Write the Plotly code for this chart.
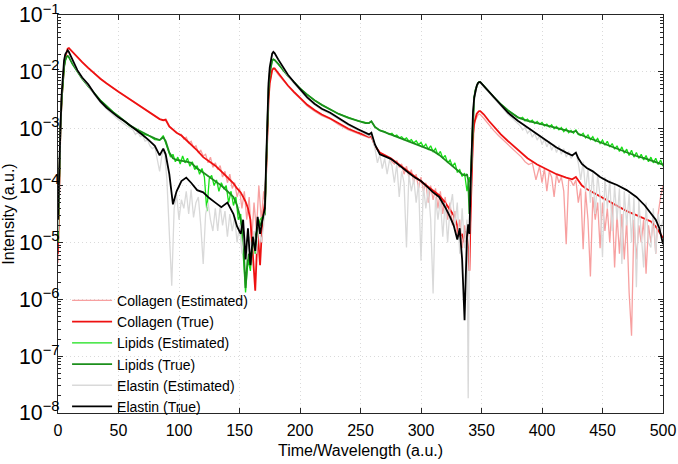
import numpy as np
import plotly.graph_objects as go

# ---------------- data (values stored as log10 of intensity) ----------------
T_X = [0, 1, 2, 3, 4, 5, 6, 7, 8, 9,
       12, 16, 20, 25, 30, 35, 40, 45, 50, 55, 60, 65, 70, 75, 80, 84, 87, 89, 92, 95,
       98, 102, 106, 110, 115, 120, 125, 130, 135, 140, 145, 148, 151, 153, 155, 157, 159, 161, 163, 165,
       167, 169,
       171, 172, 173, 174, 175, 176, 177, 178, 179,
       182, 186, 190, 195, 200, 206, 212, 218, 225, 232, 240, 248, 254, 257, 259, 262, 266, 270, 275, 280,
       285, 290, 295, 300, 305, 310, 315, 320, 324, 327, 330, 332, 334, 336, 337, 338, 339, 340,
       341, 342, 343, 344, 345, 346, 347, 348, 349,
       352, 356, 360, 366, 372, 380, 388, 396, 404, 412, 420, 425, 428, 430, 433, 437, 442, 448, 455, 462,
       470, 478, 485, 490, 494, 497, 500]

elastin_true = [-4.6, -3.6, -3.0, -2.4, -2.0, -1.8, -1.69, -1.64, -1.62, -1.65,
                -1.8, -1.97, -2.1, -2.22, -2.38, -2.52, -2.63, -2.72, -2.8, -2.87, -2.95, -3.02, -3.11, -3.2, -3.3,
                -3.47, -3.35, -3.45, -3.8, -4.33,
                -4.1, -3.92, -3.86, -3.95, -4.08, -4.12, -4.22, -4.3, -4.38, -4.3, -4.5, -4.72, -4.85, -4.6, -5.3,
                -4.75, -5.4, -4.9, -5.15, -4.55, -4.85, -4.6,
                -4.4, -3.6, -2.7, -2.2, -1.92, -1.76, -1.68, -1.65, -1.67,
                -1.78, -1.92, -2.05, -2.18, -2.31, -2.45, -2.56, -2.65, -2.72, -2.82, -2.92, -3.01, -3.08, -3.1,
                -3.07, -3.28, -3.45, -3.48, -3.53, -3.61, -3.7, -3.78, -3.86, -3.92, -4.02, -4.12, -4.2, -4.38,
                -4.55, -4.7, -4.95, -4.75, -5.3, -6.37, -5.6, -4.9, -4.68, -4.85,
                -4.0, -3.2, -2.7, -2.45, -2.32, -2.25, -2.2, -2.18, -2.18,
                -2.25, -2.35, -2.44, -2.58, -2.72, -2.86, -2.98, -3.1, -3.22, -3.33, -3.42, -3.47, -3.42, -3.52,
                -3.62, -3.69, -3.75, -3.85, -3.93, -3.99, -4.08, -4.2, -4.35, -4.48, -4.6, -4.75, -5.03]

lipids_true = [-4.9, -3.6, -3.0, -2.5, -2.15, -1.92, -1.8, -1.74, -1.72, -1.74,
               -1.86, -2.0, -2.12, -2.25, -2.38, -2.5, -2.6, -2.7, -2.78, -2.87, -2.95, -3.01, -3.07, -3.12, -3.17,
               -3.2, -3.15, -3.22, -3.42, -3.52,
               -3.55, -3.56, -3.58, -3.6, -3.7, -3.77, -3.85, -3.93, -4.0, -4.1, -4.2, -4.35, -4.6, -4.9, -5.8,
               -5.2, -5.4, -5.0, -4.9, -4.75, -4.7, -4.6,
               -4.5, -3.7, -2.8, -2.3, -2.02, -1.88, -1.8, -1.78, -1.79,
               -1.86, -1.97, -2.07, -2.18, -2.29, -2.4, -2.5, -2.58, -2.66, -2.74, -2.81, -2.86, -2.9, -2.9,
               -2.87, -2.97, -3.03, -3.06, -3.1, -3.14, -3.18, -3.22, -3.26, -3.3, -3.34, -3.39, -3.46, -3.55,
               -3.62, -3.68, -3.74, -3.77, -3.8, -3.82, -3.82, -3.8, -3.9, -4.5,
               -4.0, -3.2, -2.7, -2.45, -2.32, -2.25, -2.2, -2.18, -2.18,
               -2.25, -2.35, -2.44, -2.57, -2.68, -2.8, -2.86, -2.9, -2.94, -2.99, -3.03, -3.06, -3.04, -3.09,
               -3.12, -3.15, -3.19, -3.24, -3.3, -3.36, -3.42, -3.48, -3.52, -3.56, -3.59, -3.61, -3.63]

collagen_true = [-5.2, -3.8, -3.0, -2.5, -2.15, -1.9, -1.74, -1.64, -1.59, -1.58,
                 -1.65, -1.73, -1.83, -1.93, -2.03, -2.12, -2.2, -2.28, -2.35, -2.42, -2.49, -2.56, -2.63, -2.7,
                 -2.77, -2.83, -2.85, -2.84, -2.96, -3.02,
                 -3.07, -3.12, -3.2, -3.28, -3.38, -3.5, -3.57, -3.65, -3.75, -3.86, -3.96, -4.05, -4.12, -4.2,
                 -4.28, -4.4, -4.6, -5.2, -5.85, -4.8, -5.4, -4.6,
                 -4.3, -3.8, -3.0, -2.5, -2.2, -2.05, -1.97, -1.94, -1.94,
                 -2.02, -2.13, -2.24, -2.35, -2.46, -2.58, -2.67, -2.75, -2.82, -2.91, -3.0, -3.07, -3.12, -3.14,
                 -3.13, -3.3, -3.42, -3.47, -3.52, -3.6, -3.68, -3.76, -3.84, -3.92, -4.0, -4.08, -4.17, -4.3,
                 -4.42, -4.52, -4.7, -4.9, -4.85, -5.0, -4.8, -4.9, -5.1, -5.5,
                 -4.5, -3.6, -3.1, -2.9, -2.8, -2.74, -2.71, -2.69, -2.69,
                 -2.75, -2.86, -2.96, -3.1, -3.22, -3.37, -3.52, -3.63, -3.72, -3.8, -3.86, -3.89, -3.85, -3.92,
                 -4.0, -4.06, -4.12, -4.2, -4.28, -4.36, -4.45, -4.52, -4.58, -4.63, -4.72, -4.82, -4.92]

# Collagen (Estimated)
CE_X = (list(range(0, 10)) +
        [12, 16, 20, 25, 30, 35, 40, 45, 50, 55, 60, 65, 70, 75, 80, 84, 87, 89, 92, 95, 98] +
        list(range(100, 171, 2)) +
        list(range(171, 180)) +
        [182, 186, 190, 195, 200, 206, 212, 218, 225, 232, 240, 248, 254, 257, 259, 262, 266, 270] +
        list(range(272, 341, 2)) +
        list(range(341, 350)) +
        [352, 356, 360, 364, 368, 372, 376, 380, 383, 386, 389, 392, 395, 398] +
        list(range(400, 501, 2)))
collagen_est = [-5.36, -3.8, -3.0, -2.5, -2.15, -1.9, -1.75, -1.65, -1.6, -1.59,
                -1.66, -1.74, -1.83, -1.94, -2.03, -2.12, -2.2, -2.28, -2.35, -2.42, -2.49, -2.56, -2.63, -2.69,
                -2.77, -2.83, -2.85, -2.86, -2.97, -3.02, -3.06,
                -3.1, -3.1, -3.18, -3.15, -3.25, -3.22, -3.33, -3.3, -3.42, -3.38,
                -3.48, -3.45, -3.6, -3.5, -3.68, -3.6, -3.72, -3.65, -3.85, -3.75,
                -3.95, -3.8, -4.05, -3.95, -4.2, -4.05, -4.4, -4.1, -4.6, -4.2,
                -5.0, -4.3, -4.8, -4.0, -4.6, -4.1,
                -4.3, -3.8, -3.0, -2.5, -2.2, -2.05, -1.97, -1.94, -1.95,
                -2.05, -2.15, -2.26, -2.37, -2.47, -2.6, -2.69, -2.77, -2.83, -2.93, -3.02, -3.09, -3.14, -3.16,
                -3.15, -3.31, -3.43, -3.48,
                -3.5, -3.52, -3.58, -3.62, -3.56, -3.68, -3.62, -3.8, -3.66, -3.85,
                -3.72, -3.95, -3.8, -4.05, -3.85, -4.1, -3.95, -4.3, -4.0, -4.25,
                -4.05, -4.4, -4.1, -4.5, -4.2, -4.6, -4.3, -4.7, -4.45, -4.9,
                -4.6, -5.1, -4.7, -4.95, -4.8,
                -4.6, -3.7, -3.2, -2.95, -2.85, -2.79, -2.76, -2.74, -2.75,
                -2.82, -2.93, -3.03, -3.12, -3.2, -3.29, -3.36, -3.45, -3.5, -3.58, -3.63, -3.6, -3.9, -3.66,
                -3.95, -3.7, -4.1, -3.75, -3.85, -4.2, -3.8, -3.95, -3.85, -4.1,
                -5.03, -3.9, -3.92, -4.0, -3.9, -4.3, -4.05, -5.12, -4.1, -4.6,
                -5.6, -4.2, -4.6, -4.3, -5.1, -4.3, -4.8, -4.4, -5.0, -4.3,
                -5.44, -4.5, -5.2, -4.5, -5.3, -4.6, -5.88, -6.64, -4.6, -5.3,
                -4.7, -5.0, -4.6, -5.55, -4.7, -5.0, -4.6, -5.2, -4.5, -4.2,
                -4.0]

# Lipids (Estimated)
LE_X = (list(range(0, 10)) +
        [12, 16, 20, 25, 30, 35, 40, 45, 50, 55, 60, 65, 70, 75, 80, 84, 87] +
        list(range(89, 170, 2)) +
        list(range(171, 180)) +
        [182, 186, 190, 195, 200, 206, 212, 218, 225, 232, 240, 248, 254, 257, 259, 262, 266, 270] +
        list(range(272, 341, 2)) +
        list(range(341, 350)) +
        [352, 356, 360, 366, 372, 378] +
        list(range(380, 501, 2)))
lipids_est = [-5.0, -3.6, -3.0, -2.5, -2.15, -1.92, -1.8, -1.74, -1.72, -1.74,
              -1.86, -2.0, -2.12, -2.25, -2.38, -2.5, -2.6, -2.7, -2.79, -2.87, -2.96, -3.01, -3.09, -3.12,
              -3.19, -3.2, -3.12,
              -3.25, -3.38, -3.5, -3.45, -3.58, -3.5, -3.62, -3.48, -3.6, -3.52,
              -3.66, -3.58, -3.72, -3.65, -3.8, -3.7, -3.85, -4.45, -3.88, -3.82,
              -4.0, -3.9, -4.1, -3.95, -4.05, -4.0, -4.3, -4.1, -4.35, -4.2,
              -4.6, -4.5, -5.1, -5.88, -5.3, -5.5, -4.9, -5.2, -4.8, -4.6,
              -4.55,
              -4.5, -3.7, -2.8, -2.3, -2.02, -1.88, -1.8, -1.78, -1.79,
              -1.86, -1.97, -2.07, -2.18, -2.29, -2.4, -2.5, -2.58, -2.66, -2.74, -2.8, -2.86, -2.89, -2.9,
              -2.87, -2.97, -3.03, -3.05,
              -3.08, -3.1, -3.08, -3.13, -3.11, -3.16, -3.14, -3.19, -3.16, -3.22,
              -3.19, -3.25, -3.21, -3.28, -3.24, -3.32, -3.27, -3.36, -3.3, -3.4,
              -3.35, -3.46, -3.4, -3.52, -3.47, -3.6, -3.55, -3.66, -3.6, -3.76,
              -3.72, -3.84, -3.78, -4.1, -3.85,
              -4.0, -3.2, -2.7, -2.45, -2.32, -2.25, -2.2, -2.18, -2.18,
              -2.25, -2.35, -2.44, -2.57, -2.68, -2.77,
              -2.79, -2.82, -2.8, -2.86, -2.83, -2.88, -2.85, -2.91, -2.87, -2.92,
              -2.89, -2.95, -2.92, -2.97, -2.93, -3.0, -2.96, -3.02, -2.98, -3.05,
              -3.0, -3.07, -3.03, -3.08, -3.02, -3.1, -3.12, -3.08, -3.16, -3.11,
              -3.19, -3.14, -3.22, -3.17, -3.26, -3.2, -3.29, -3.22, -3.32, -3.26,
              -3.36, -3.3, -3.4, -3.32, -3.43, -3.36, -3.47, -3.38, -3.5, -3.42,
              -3.52, -3.45, -3.55, -3.47, -3.58, -3.5, -3.6, -3.52, -3.63, -3.55,
              -3.66]

# Elastin (Estimated)
EE_X = (list(range(0, 10)) +
        [12, 16, 20, 25, 30, 35, 40, 45, 50, 55, 60] +
        list(range(62, 171, 2)) +
        list(range(171, 180)) +
        [182, 186, 190, 195, 200, 206, 212, 218, 225, 232, 240, 248, 254, 257, 259, 262] +
        list(range(264, 339, 2)) + [339, 340] +
        list(range(341, 350)) +
        [352, 356, 360, 366, 372, 378] +
        list(range(380, 501, 2)))
elastin_est = [-4.8, -3.7, -3.05, -2.42, -2.02, -1.81, -1.7, -1.65, -1.64, -1.67,
               -1.81, -1.98, -2.11, -2.24, -2.4, -2.54, -2.65, -2.75, -2.84, -2.92, -3.0,
               -3.02, -3.1, -3.06, -3.14, -3.12, -3.22, -3.2, -3.3, -3.35, -3.32,
               -3.55, -3.75, -3.45, -3.38, -3.9, -4.9, -5.76, -4.4, -4.16, -4.6,
               -4.25, -4.4, -4.1, -4.5, -4.07, -4.56, -4.3, -4.2, -4.7, -5.38,
               -4.5, -4.3, -4.6, -4.8, -4.4, -4.8, -4.35, -4.7, -4.45, -4.9,
               -4.5, -4.8, -4.55, -5.0, -4.7, -5.2, -4.8, -5.3, -4.9, -5.1,
               -4.8, -5.2, -4.7, -5.0, -4.7,
               -4.4, -3.6, -2.7, -2.2, -1.92, -1.76, -1.68, -1.66, -1.68,
               -1.8, -1.94, -2.07, -2.2, -2.33, -2.47, -2.58, -2.67, -2.74, -2.84, -2.94, -3.03, -3.1, -3.13,
               -3.1, -3.35,
               -3.6, -3.45, -3.7, -3.52, -3.8, -3.55, -3.65, -3.95, -3.62, -4.2,
               -3.75, -3.95, -5.09, -3.8, -4.1, -3.88, -4.3, -3.95, -5.32, -4.0,
               -4.4, -4.05, -4.6, -5.9, -4.2, -4.6, -4.25, -4.9, -4.3, -5.0,
               -4.4, -4.15, -4.7, -4.3, -5.2, -4.4, -5.1, -4.6,
               -7.74, -4.9,
               -4.2, -3.3, -2.75, -2.48, -2.34, -2.26, -2.21, -2.19, -2.19,
               -2.26, -2.36, -2.45, -2.6, -2.75, -2.87,
               -2.92, -2.95, -3.02, -2.98, -3.08, -3.03, -3.15, -3.08, -3.2, -3.12,
               -3.28, -3.18, -3.32, -3.22, -3.38, -3.28, -3.42, -3.3, -3.45, -3.35,
               -3.5, -3.4, -3.52, -3.45, -3.42, -3.6, -3.9, -3.58, -4.1, -3.7,
               -4.3, -3.75, -4.5, -3.8, -4.2, -5.26, -3.85, -4.4, -3.9, -4.8,
               -4.0, -4.6, -4.05, -5.38, -4.1, -4.7, -4.15, -5.0, -4.2, -5.79,
               -4.25, -4.9, -5.44, -4.3, -5.0, -5.09, -4.4, -5.2, -4.5, -4.8,
               -4.6]

SERIES = [
    ("Collagen (Estimated)", CE_X, collagen_est, "#f7a0a0", 1.3),
    ("Collagen (True)", T_X, collagen_true, "#ee1111", 1.8),
    ("Lipids (Estimated)", LE_X, lipids_est, "#16e016", 1.3),
    ("Lipids (True)", T_X, lipids_true, "#1c8f1c", 1.8),
    ("Elastin (Estimated)", EE_X, elastin_est, "#d9d9d9", 1.3),
    ("Elastin (True)", T_X, elastin_true, "#000000", 1.8),
]

# ---------------- figure ----------------
fig = go.Figure()
for name, xs, logs, color, width in SERIES:
    fig.add_trace(go.Scatter(
        x=xs, y=np.power(10.0, np.array(logs)), name=name, mode="lines",
        line=dict(color=color, width=width)))

axis_col = "#262626"
grid_col = "#dadada"
fig.update_layout(
    width=678, height=464,
    margin=dict(l=58, r=15, t=15, b=51, autoexpand=False),
    paper_bgcolor="white", plot_bgcolor="white",
    font=dict(family="Liberation Sans, Arial, sans-serif", size=16, color="#000000"),
    showlegend=True,
    legend=dict(x=0.015, y=0.322, xanchor="left", yanchor="top",
                bgcolor="rgba(255,255,255,0)", borderwidth=0,
                font=dict(size=14), tracegroupgap=0, itemwidth=40),
)
fig.update_xaxes(
    range=[0, 500], dtick=50, tick0=0, automargin=False,
    showline=True, linecolor=axis_col, linewidth=1, mirror="allticks",
    ticks="inside", ticklen=5, tickcolor=axis_col,
    showgrid=True, gridcolor=grid_col, griddash="1px,3px", gridwidth=1,
    zeroline=False, ticklabeloverflow="allow", ticklabelstandoff=3,
    title=dict(text="Time/Wavelength (a.u.)", standoff=6, font=dict(size=16)),
    tickfont=dict(size=16),
)
fig.update_yaxes(
    type="log", range=[-8.0005, -0.9995], dtick=1, automargin=False,
    exponentformat="power", showexponent="all",
    showline=True, linecolor=axis_col, linewidth=1, mirror="allticks",
    ticks="inside", ticklen=5, tickcolor=axis_col,
    minor=dict(ticks="inside", ticklen=3, tickcolor=axis_col, showgrid=False),
    showgrid=True, gridcolor=grid_col, griddash="1px,3px", gridwidth=1,
    zeroline=False, ticklabeloverflow="allow", ticklabelstandoff=-6,
    title=dict(text="Intensity (a.u.)", standoff=15, font=dict(size=16)),
    tickfont=dict(size=17),
)

# remove the page's default 8 px body margin so the figure fills the window
fig.write_html("out.html",
               config={"displayModeBar": False},
               post_script="document.body.style.margin='0px';")
